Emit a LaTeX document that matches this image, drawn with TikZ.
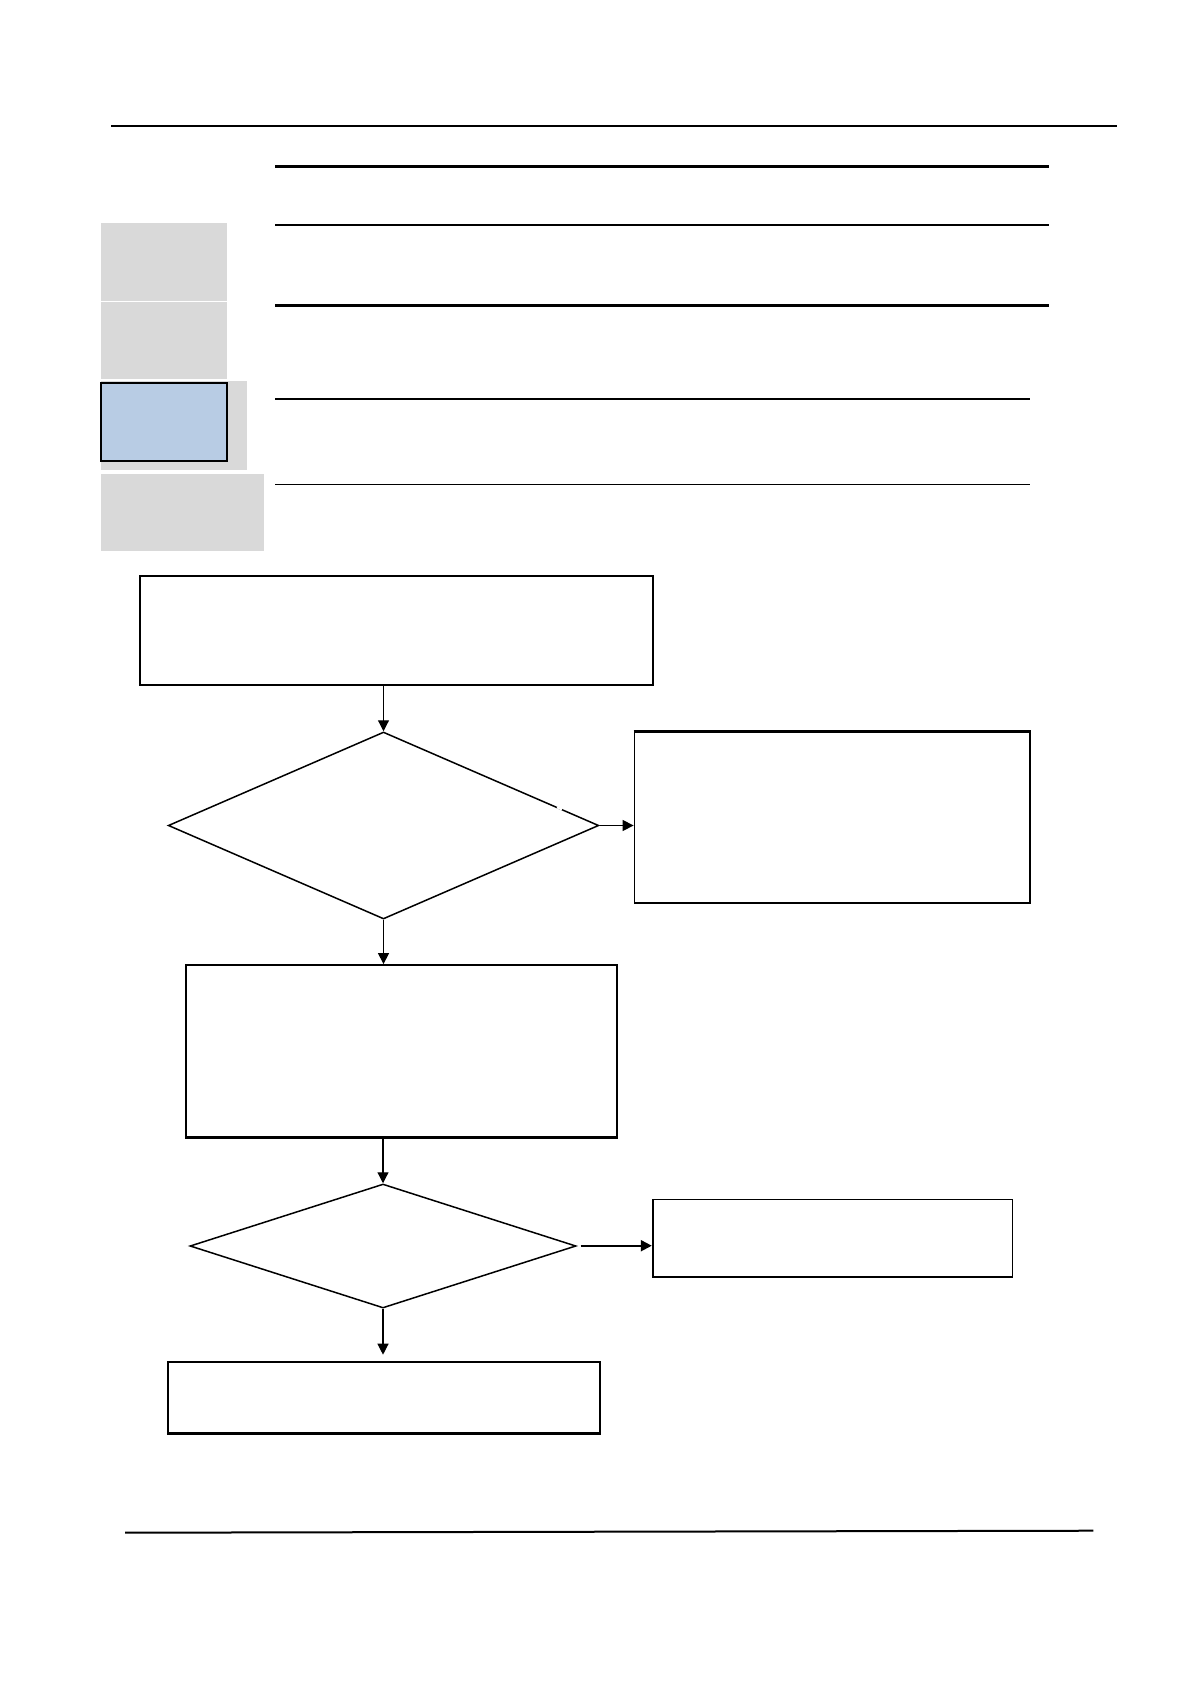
\documentclass[tikz,border=0pt]{standalone}
\usetikzlibrary{shapes.geometric,arrows.meta}
\definecolor{panelgray}{HTML}{D9D9D9}
\definecolor{panelblue}{HTML}{B8CCE4}
\tikzset{
  flowbox/.style={draw=black, line width=0.9pt, rectangle, inner sep=0pt, fill=white},
  flowdiam/.style={draw=black, line width=0.75pt, diamond, inner sep=0pt, fill=white},
  arr/.style={line width=0.6pt, -{Triangle[length=5.5pt,width=5.5pt]}},
  rulethick/.style={line width=1.5pt},
  rulemid/.style={line width=1pt},
  rulethin/.style={line width=0.75pt},
  panel/.style={fill=panelgray, draw=none}
}
\begin{document}
\begin{tikzpicture}[x=0.5pt,y=-0.5pt]
\useasboundingbox (0,0) rectangle (1190,1684);
% header rules
\draw[rulethin] (111,126) -- (1117,126);
\draw[rulethick] (275,166.7) -- (1048.5,166.7);
\draw[rulemid] (275,225.5) -- (1048.5,225.5);
\draw[rulethick] (275,306) -- (1048.5,306);
\draw[rulethin] (275,399) -- (1030,399);
\draw[rulethin] (275,484.5) -- (1030,484.5);
% side panels
\path[panel] (101,223.3) rectangle (226.7,301);
\path[panel] (101,302) rectangle (226.7,379);
\path[panel] (101,381) rectangle (247,470);
\path[fill=panelblue, draw=black, line width=1pt] (101,383) rectangle (227,461);
\path[panel] (101,474) rectangle (264,551);
% flowchart
\node[flowbox, minimum width=256.5pt, minimum height=54.5pt] (A) at (396.5,630.5) {};
\node[flowdiam, minimum width=215.25pt, minimum height=93.5pt] (D1) at (383.5,825.5) {};
\draw[white, line width=1.1pt] (557,807.3) -- (562,809.5);
\node[flowbox, minimum width=197.75pt, minimum height=85.5pt] (B) at (832.25,817.5) {};
\draw[line width=1.5pt] (B.north west) -- (B.north east);
\node[flowbox, minimum width=215.5pt, minimum height=86pt] (C) at (401.5,1051) {};
\draw[line width=1.4pt] (C.south west) -- (C.south east);
\node[flowdiam, minimum width=193pt, minimum height=62pt] (D2) at (383,1246) {};
\node[flowbox, minimum width=179.9pt, minimum height=38.8pt] (E) at (832.6,1238.2) {};
\node[flowbox, minimum width=215.95pt, minimum height=35.5pt] (F) at (383.65,1397.5) {};
\draw[line width=1.4pt] (F.south west) -- (F.south east);
\coordinate (D2out) at (580.7,1245.7);
\coordinate (Fin) at (383,1354.7);
% connectors
\draw[arr] (A.south -| D1.north) -- (D1.north);
\draw[arr] (D1.east) -- (B.west |- D1.east);
\draw[arr] (D1.south) -- (C.north -| D1.south);
\draw[arr] (C.south -| D2.north) -- (D2.north);
\draw[arr, line width=1pt] (D2out) -- (E.west |- D2out);
\draw[arr] (D2.south) -- (Fin);
% footer rule
\draw[line width=1pt] (125,1532.7) -- (1093.3,1530.7);
\end{tikzpicture}
\end{document}
